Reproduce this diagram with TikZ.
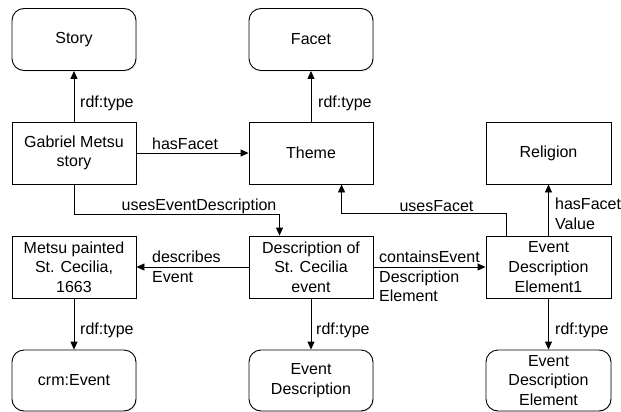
\documentclass[tikz,border=0pt]{standalone}
\usepackage{fontspec}
\setmainfont{Liberation Sans}
\usetikzlibrary{arrows.meta,shadows}
\begin{document}
\begin{tikzpicture}[x=1pt,y=-1pt,
  every node/.style={font=\fontsize{16}{19.7}\selectfont},
  sq/.style={draw=black, line width=0.9pt, fill=white, align=center,
    minimum width=124pt, minimum height=62pt, inner sep=0pt,
    drop shadow={shadow xshift=1.2pt, shadow yshift=-1.2pt, opacity=0.15}},
  rnd/.style={sq, rounded corners=12pt},
  lbl/.style={inner sep=0pt, align=left},
  arr/.style={draw=black, line width=0.9pt, -{Triangle[length=8pt,width=7pt]}}]
\useasboundingbox (0,0) rectangle (621,412);
% boxes
\node[rnd] (story) at (74,39.5) {Story};
\node[rnd] (facet) at (311,39.5) {Facet};
\node[sq] (gab) at (74,153) {Gabriel Metsu\\story};
\node[sq] (theme) at (311,153) {Theme};
\node[sq, minimum width=125pt] (rel) at (548.5,153) {Religion};
\node[sq] (metsu) at (74,267) {Metsu painted\\St. Cecilia,\\1663};
\node[sq] (desc) at (311,267) {Description of\\St. Cecilia\\event};
\node[sq, minimum width=125pt] (ede1) at (548.5,267) {Event\\Description\\Element1};
\node[rnd, minimum height=61pt] (crm) at (74,380.5) {crm:Event};
\node[rnd, minimum height=61pt] (evd) at (311,380.5) {Event\\Description};
\node[rnd, minimum width=125pt, minimum height=61pt] (ede) at (548.5,380.5) {Event\\Description\\Element};
% connectors
\draw[arr] (gab.north) -- (story.south);
\draw[arr] (theme.north) -- (facet.south);
\draw[arr] (gab.east) -- (theme.west);
\draw[arr] (gab.south) -- ++(0,30) -| ([xshift=31pt]desc.north west);
\draw[arr] ([xshift=21pt]ede1.north west) -- ++(0,-22) -| ([xshift=93pt]theme.south west);
\draw[arr] (ede1.north) -- (rel.south);
\draw[arr] (desc.west) -- (metsu.east);
\draw[arr] (desc.east) -- (ede1.west);
\draw[arr] (metsu.south) -- (crm.north);
\draw[arr] (desc.south) -- (evd.north);
\draw[arr] (ede1.south) -- (ede.north);
% labels
\node[lbl, anchor=west] (l1) at (80,103) {rdf:type};
\node[lbl, anchor=west] (l2) at (318,103) {rdf:type};
\node[lbl, anchor=west] (l3) at (152,144) {hasFacet};
\node[lbl] (l4) at (199,206) {usesEventDescription};
\node[lbl] (l5) at (436.5,206) {usesFacet};
\node[lbl, anchor=west] (l6) at (555,214) {hasFacet\\Value};
\node[lbl, anchor=west] (l7) at (152,267) {describes\\Event};
\node[lbl, anchor=west] (l8) at (379,276.5) {containsEvent\\Description\\Element};
\node[lbl, anchor=west] (l9) at (80,330) {rdf:type};
\node[lbl, anchor=west] (l10) at (316,330) {rdf:type};
\node[lbl, anchor=west] (l11) at (555,330) {rdf:type};
\end{tikzpicture}
\end{document}
